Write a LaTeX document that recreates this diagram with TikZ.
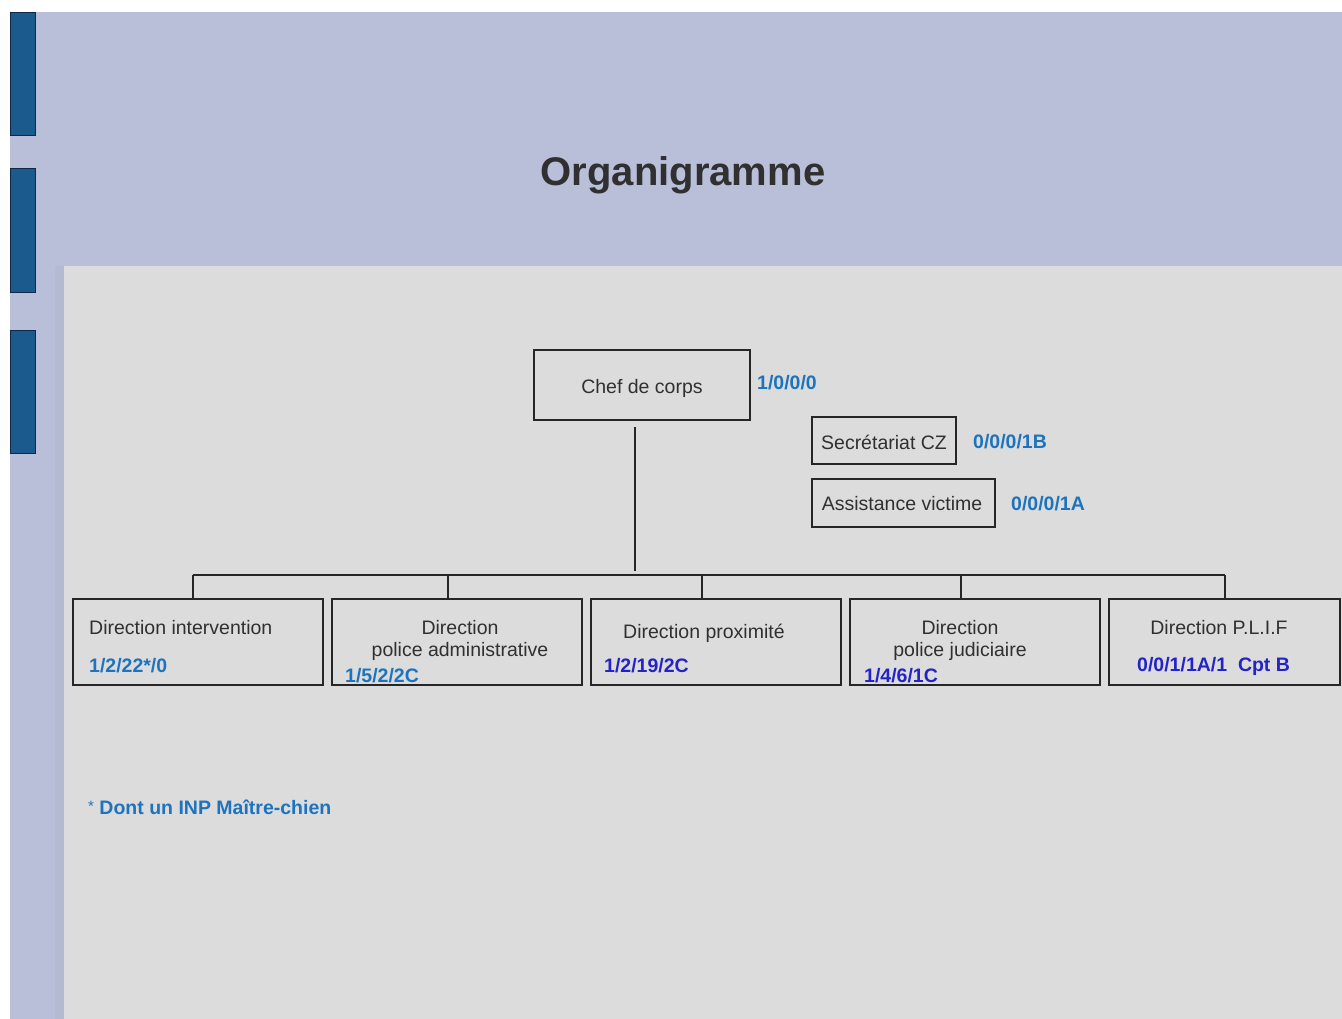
\documentclass[tikz,border=0pt]{standalone}
\usepackage{fontspec}
\setmainfont{Liberation Sans}
\definecolor{lav}{RGB}{185,190,217}
\definecolor{lavshade}{RGB}{181,186,211}
\definecolor{panel}{RGB}{220,220,220}
\definecolor{barblue}{RGB}{26,90,140}
\definecolor{baredge}{RGB}{15,40,70}
\definecolor{lblue}{RGB}{30,115,190}
\definecolor{dblue}{RGB}{35,35,200}
\definecolor{txt}{RGB}{48,48,48}
\begin{document}
\begin{tikzpicture}[x=1pt,y=-1pt,
  bar/.style={fill=barblue,draw=baredge,line width=0.8pt},
  box/.style={draw=black!85,line width=1.1pt,inner sep=0pt,text=txt,
    font=\fontsize{19.5}{23}\selectfont},
  boxtext/.style={text=txt,inner sep=0pt,font=\fontsize{19.5}{23}\selectfont},
  num/.style={inner sep=0pt,anchor=west,font=\fontsize{19.5}{23}\selectfont\bfseries},
  link/.style={draw=black!85,line width=1.1pt}]
\useasboundingbox (0,0) rectangle (1342,1019);
\fill[white] (0,0) rectangle (1342,1019);
\fill[lav] (10,12) rectangle (1342,1019);
\fill[lavshade] (55,266) rectangle (64,1019);
\fill[panel] (64,266) rectangle (1342,1019);
\draw[bar] (10,12) rectangle (35,135);
\draw[bar] (10,168) rectangle (35,292);
\draw[bar] (10,330) rectangle (35,453);
\node[text=txt,font=\fontsize{40}{46}\selectfont\bfseries,inner sep=0pt] (title) at (683,175) {Organigramme};
% top boxes
\node[box,minimum width=216pt,minimum height=70pt] (chef) at (642,385) {};
\node[boxtext] (tchef) at (642,388) {Chef de corps};
\node[num,text=lblue] (lchef) at (757,383) {1/0/0/0};
\node[box,minimum width=144pt,minimum height=47pt] (sec) at (884,440.5) {};
\node[boxtext] (tsec) at (884,442) {Secrétariat CZ};
\node[num,text=lblue] (lsec) at (973,442) {0/0/0/1B};
\node[box,minimum width=183pt,minimum height=48pt] (av) at (903.5,503) {};
\node[boxtext] (tav) at (902,504) {Assistance victime};
\node[num,text=lblue] (lav) at (1011,504) {0/0/0/1A};
% bottom boxes
\node[box,minimum width=250pt,minimum height=86pt] (b1) at (198,642) {};
\node[box,minimum width=250pt,minimum height=86pt] (b2) at (457,642) {};
\node[box,minimum width=250pt,minimum height=86pt] (b3) at (716,642) {};
\node[box,minimum width=250pt,minimum height=86pt] (b4) at (975,642) {};
\node[box,minimum width=231pt,minimum height=86pt] (b5) at (1224.5,642) {};
\node[boxtext,anchor=west] (t1) at (89,628) {Direction intervention};
\node[num,text=lblue] (l1) at (89,666) {1/2/22*/0};
\node[boxtext] (t2a) at (460,628) {Direction};
\node[boxtext] (t2b) at (460,651) {police administrative};
\node[num,text=lblue] (l2) at (345,676) {1/5/2/2C};
\node[boxtext,anchor=west] (t3) at (623,633) {Direction proximité};
\node[num,text=dblue] (l3) at (604,666) {1/2/19/2C};
\node[boxtext] (t4a) at (960,628) {Direction};
\node[boxtext] (t4b) at (960,651) {police judiciaire};
\node[num,text=dblue] (l4) at (864,676) {1/4/6/1C};
\node[boxtext] (t5) at (1219,628) {Direction P.L.I.F};
\node[num,text=dblue] (l5) at (1137,666) {0/0/1/1A/1\ \ Cpt B};
\node[num,text=lblue] (foot) at (88,807) {{\fontsize{15}{16}\selectfont\mdseries\raisebox{3pt}{*}} Dont un INP Maître-chien};
% connectors
\coordinate (ctop) at (635,427);
\coordinate (cbot) at (635,571);
\coordinate (d1) at (193,575);
\coordinate (d2) at (448,575);
\coordinate (d3) at (702,575);
\coordinate (d4) at (961,575);
\coordinate (d5) at (1225,575);
\draw[link] (ctop) -- (cbot);
\draw[link] (d1) -- (d5);
\draw[link] (d1) -- (d1 |- b1.north);
\draw[link] (d2) -- (d2 |- b2.north);
\draw[link] (d3) -- (d3 |- b3.north);
\draw[link] (d4) -- (d4 |- b4.north);
\draw[link] (d5) -- (d5 |- b5.north);
\end{tikzpicture}
\end{document}
